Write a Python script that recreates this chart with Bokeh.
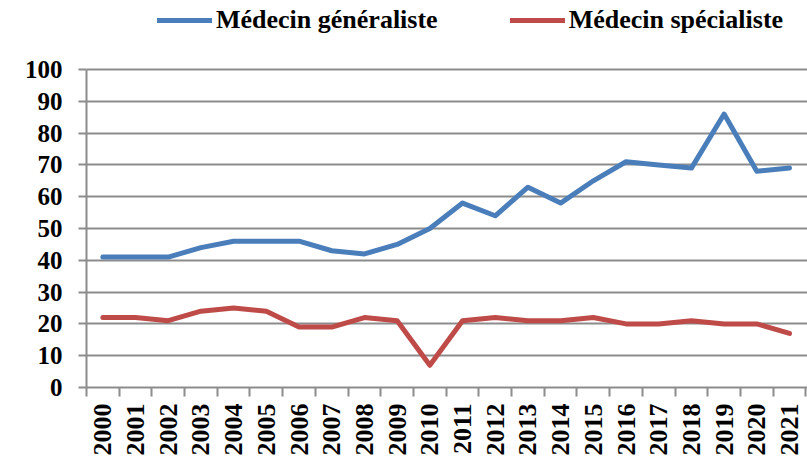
import math
from bokeh.plotting import figure
from bokeh.models import Range1d, FixedTicker, Legend, LegendItem, CustomJSTickFormatter
from bokeh.embed import file_html
from bokeh.resources import INLINE

years = [str(y) for y in range(2000, 2022)]
generaliste = [41, 41, 41, 44, 46, 46, 46, 43, 42, 45, 50, 58, 54, 63, 58, 65, 71, 70, 69, 86, 68, 69]
specialiste = [22, 22, 21, 24, 25, 24, 19, 19, 22, 21, 7, 21, 22, 21, 21, 22, 20, 20, 21, 20, 20, 17]
y_ticks = list(range(0, 101, 10))
series_names = ["Médecin généraliste", "Médecin spécialiste"]
colors = ["#4a7ebb", "#be4b48"]

xs = list(range(len(years)))
GRAY = "#8c8c8c"
FONT = "Liberation Serif"

p = figure(width=807, height=461, output_backend="svg", toolbar_location=None,
           x_range=Range1d(-0.5, 21.55), y_range=Range1d(0, 121.7),
           min_border_left=86, min_border_right=0, min_border_top=0,
           min_border_bottom=74)
p.outline_line_color = None
p.background_fill_color = "white"

r1 = p.line(xs, generaliste, line_width=5, color=colors[0], line_join="round", line_cap="round")
r2 = p.line(xs, specialiste, line_width=5, color=colors[1], line_join="round", line_cap="round")

# grid
p.xgrid.grid_line_color = None
p.ygrid.ticker = FixedTicker(ticks=y_ticks)
p.ygrid.grid_line_color = GRAY
p.ygrid.grid_line_width = 2

# y axis
p.yaxis.ticker = FixedTicker(ticks=y_ticks)
p.yaxis.bounds = (0, 100)
p.yaxis.axis_line_color = GRAY
p.yaxis.axis_line_width = 2
p.yaxis.major_tick_line_color = GRAY
p.yaxis.major_tick_line_width = 2
p.yaxis.major_tick_out = 8
p.yaxis.major_tick_in = 0
p.yaxis.minor_tick_line_color = None
p.yaxis.major_label_standoff = 16
p.yaxis.major_label_text_font = FONT
p.yaxis.major_label_text_font_style = "bold"
p.yaxis.major_label_text_font_size = "25px"
p.yaxis.major_label_text_color = "black"

# x axis
p.xaxis.ticker = FixedTicker(ticks=xs, minor_ticks=[i - 0.5 for i in range(len(years) + 1)])
p.xaxis.formatter = CustomJSTickFormatter(args=dict(labels=years),
                                          code="return labels[Math.round(tick)] || '';")
p.xaxis.axis_line_color = GRAY
p.xaxis.axis_line_width = 2
p.xaxis.major_tick_line_color = None
p.xaxis.major_tick_out = 0
p.xaxis.major_tick_in = 0
p.xaxis.minor_tick_line_color = GRAY
p.xaxis.minor_tick_line_width = 2
p.xaxis.minor_tick_out = 9
p.xaxis.minor_tick_in = 0
p.xaxis.major_label_orientation = math.pi / 2
p.xaxis.major_label_standoff = 7
p.xaxis.major_label_text_font = FONT
p.xaxis.major_label_text_font_style = "bold"
p.xaxis.major_label_text_font_size = "26px"
p.xaxis.major_label_text_color = "black"

legend = Legend(items=[LegendItem(label=series_names[0], renderers=[r1]),
                       LegendItem(label=series_names[1], renderers=[r2])],
                orientation="horizontal", glyph_width=55, glyph_height=24,
                label_standoff=4, spacing=72, label_text_font=FONT,
                label_text_font_style="bold", label_text_font_size="26px",
                label_text_color="black",
                border_line_color=None, background_fill_alpha=0,
                padding=0, margin=0, location=(71, 352))
p.add_layout(legend, "center")

open("out.html", "w").write(file_html(p, INLINE))
